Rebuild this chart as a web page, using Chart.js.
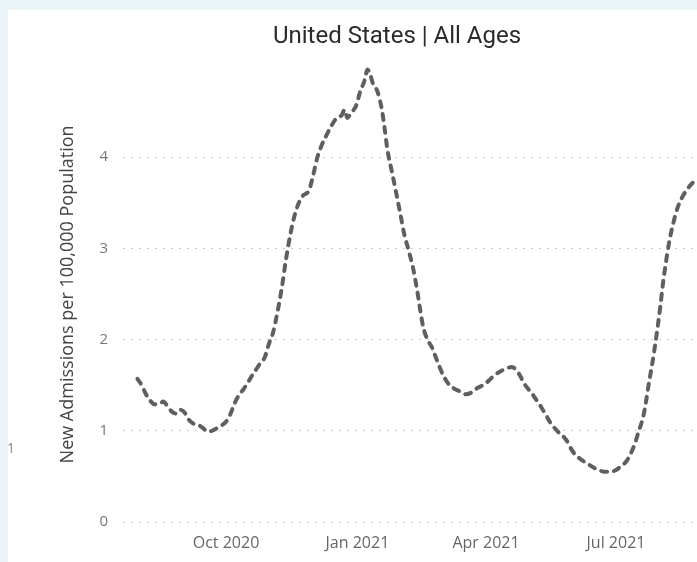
<!DOCTYPE html>
<html>
<head>
<meta charset="utf-8">
<script src="https://cdn.jsdelivr.net/npm/chart.js@4/dist/chart.umd.min.js"></script>
<style>
  html, body { margin: 0; padding: 0; width: 697px; height: 562px; overflow: hidden; background: #eaf3f5; }
  #panel { position: absolute; left: 8px; top: 10px; width: 689px; height: 552px; background: #ffffff; }
  #wrap { position: absolute; left: 0; top: 0; width: 697px; height: 562px; overflow: hidden; }
  #stray { position: absolute; left: 7px; top: 438px; font: 14px 'Open Sans', sans-serif; color: #888; }
</style>
</head>
<body>
<div id="panel"></div>
<div id="wrap"><canvas id="c" width="794" height="562"></canvas></div>
<div id="stray">1</div>
<script>
// ---- data ----
const chartTitle = 'United States | All Ages';
const yAxisTitle = 'New Admissions per 100,000 Population';
const originDate = '2020-10-01';
const dates = [
  '2020-07-31','2020-08-03','2020-08-06','2020-08-09','2020-08-12','2020-08-15','2020-08-18','2020-08-21',
  '2020-08-24','2020-08-27','2020-08-30','2020-09-02','2020-09-05','2020-09-08','2020-09-12','2020-09-15',
  '2020-09-18','2020-09-21','2020-09-25','2020-09-28','2020-10-01','2020-10-04','2020-10-07','2020-10-10',
  '2020-10-13','2020-10-16','2020-10-19','2020-10-22','2020-10-25','2020-10-28','2020-10-31','2020-11-03',
  '2020-11-06','2020-11-09','2020-11-12','2020-11-15','2020-11-18','2020-11-21','2020-11-24','2020-11-26',
  '2020-11-28','2020-12-01','2020-12-04','2020-12-07','2020-12-10','2020-12-13','2020-12-16','2020-12-19',
  '2020-12-21','2020-12-23','2020-12-25','2020-12-27','2020-12-29','2020-12-31','2021-01-03','2021-01-06',
  '2021-01-08','2021-01-10','2021-01-12','2021-01-15','2021-01-18','2021-01-20','2021-01-22','2021-01-25',
  '2021-01-28','2021-01-31','2021-02-03','2021-02-06','2021-02-09','2021-02-12','2021-02-14','2021-02-16',
  '2021-02-19','2021-02-22','2021-02-25','2021-02-28','2021-03-03','2021-03-06','2021-03-10','2021-03-14',
  '2021-03-18','2021-03-22','2021-03-26','2021-03-30','2021-04-03','2021-04-07','2021-04-11','2021-04-15',
  '2021-04-19','2021-04-22','2021-04-25','2021-04-28','2021-05-01','2021-05-04','2021-05-07','2021-05-10',
  '2021-05-13','2021-05-16','2021-05-19','2021-05-22','2021-05-25','2021-05-28','2021-05-31','2021-06-03',
  '2021-06-07','2021-06-11','2021-06-15','2021-06-19','2021-06-23','2021-06-27','2021-07-01','2021-07-05',
  '2021-07-08','2021-07-11','2021-07-14','2021-07-17','2021-07-20','2021-07-22','2021-07-24','2021-07-26',
  '2021-07-28','2021-07-30','2021-08-01','2021-08-03','2021-08-05','2021-08-07','2021-08-10','2021-08-13',
  '2021-08-16','2021-08-19','2021-08-22','2021-08-25','2021-08-27'
];
const admissions = [
  1.57,1.50,1.40,1.33,1.29,1.29,1.32,1.27,
  1.21,1.19,1.23,1.20,1.12,1.08,1.06,1.03,
  0.99,1.00,1.03,1.06,1.10,1.18,1.30,1.39,
  1.45,1.52,1.60,1.67,1.74,1.80,1.95,2.08,
  2.30,2.56,2.88,3.15,3.36,3.50,3.58,3.60,
  3.63,3.80,4.00,4.13,4.23,4.32,4.40,4.44,
  4.46,4.52,4.43,4.47,4.51,4.56,4.72,4.84,
  4.96,4.90,4.80,4.72,4.53,4.32,4.08,3.85,
  3.62,3.38,3.14,2.97,2.78,2.52,2.32,2.14,
  2.00,1.92,1.80,1.68,1.58,1.51,1.46,1.43,
  1.40,1.42,1.47,1.50,1.55,1.61,1.65,1.68,
  1.70,1.67,1.60,1.51,1.45,1.39,1.32,1.25,
  1.17,1.09,1.03,0.98,0.94,0.88,0.79,0.73,
  0.68,0.64,0.60,0.57,0.55,0.55,0.57,0.62,
  0.66,0.74,0.85,1.00,1.15,1.32,1.52,1.70,
  1.90,2.12,2.36,2.63,2.85,3.05,3.27,3.44,
  3.55,3.63,3.69,3.74,3.77
];
const xTickDates = ['2020-10-01','2021-01-01','2021-04-01','2021-07-01'];
const xTickLabels = ['Oct 2020','Jan 2021','Apr 2021','Jul 2021'];
const yTicks = [0, 1, 2, 3, 4];

// ---- helpers ----
const DAY = 86400000;
const dayOf = s => (Date.parse(s) - Date.parse(originDate)) / DAY;
const points = dates.map((d, i) => ({ x: dayOf(d), y: admissions[i] }));
const xTickValues = xTickDates.map(dayOf);

const tickFont = { family: "'Open Sans', 'DejaVu Sans', sans-serif", size: 16 };

new Chart(document.getElementById('c'), {
  type: 'line',
  data: {
    datasets: [{
      data: points,
      borderColor: '#5f5f5f',
      borderWidth: 4,
      borderDash: [6, 7],
      borderCapStyle: 'round',
      pointRadius: 0,
      cubicInterpolationMode: 'monotone',
      fill: false,
      clip: false
    }]
  },
  options: {
    responsive: false,
    animation: false,
    devicePixelRatio: 1,
    layout: { padding: 0 },
    plugins: {
      legend: { display: false },
      tooltip: { enabled: false },
      title: {
        display: true,
        text: chartTitle,
        color: '#2b2b2b',
        font: { family: "'Roboto', 'DejaVu Sans Condensed', sans-serif", size: 24, weight: 'normal' },
        padding: { top: 23, bottom: 15 }
      }
    },
    scales: {
      x: {
        type: 'linear',
        min: -72.1,
        max: 397.6,
        grid: { display: false },
        border: { display: false },
        afterBuildTicks: s => { s.ticks = xTickValues.map(v => ({ value: v })); },
        afterFit: s => { s.height = 40; },
        ticks: {
          autoSkip: false,
          maxRotation: 0,
          color: '#666',
          font: tickFont,
          padding: 4,
          callback: (v) => { const i = xTickValues.indexOf(v); return i >= 0 ? xTickLabels[i] : ''; }
        }
      },
      y: {
        min: 0,
        max: 4.99,
        afterBuildTicks: s => { s.ticks = yTicks.map(v => ({ value: v })); },
        afterFit: s => { s.width = 123; },
        grid: { color: '#c9c9c9', lineWidth: 1, drawTicks: false },
        border: { display: false, dash: [2, 6] },
        ticks: { color: '#777', font: { family: "'Open Sans', 'DejaVu Sans', sans-serif", size: 15 }, padding: 15 },
        title: {
          display: true,
          text: yAxisTitle,
          color: '#444',
          font: { family: "'Open Sans', 'DejaVu Sans', sans-serif", size: 18 },
          padding: { top: 57, bottom: 0 }
        }
      }
    }
  }
});
</script>
</body>
</html>
